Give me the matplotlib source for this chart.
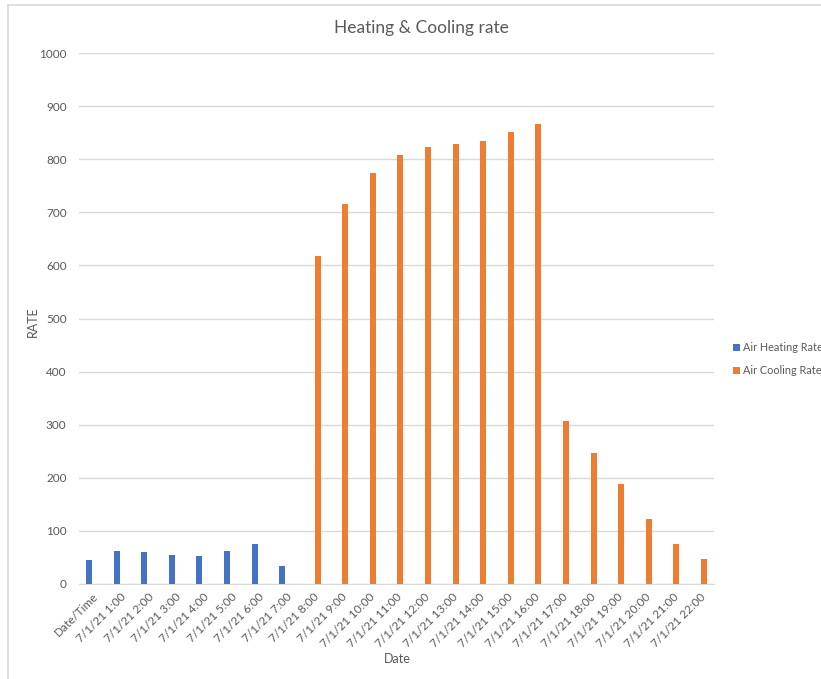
import matplotlib.pyplot as plt
import numpy as np
from matplotlib.lines import Line2D

#Category labels along the x axis
categories = ['Date/Time'] + ['7/1/21 %d:00' % h for h in range(1, 23)]

#Air heating rate (only first 8 categories have values)
heating = [46, 63, 60, 55, 52, 62, 76, 34.5] + [np.nan] * 15

#Air cooling rate (starts at 8:00)
cooling = [np.nan] * 8 + [618, 716, 774, 808, 823, 829, 834, 851, 866,
                          307, 247, 188, 122, 76, 46.5]

plt.rcParams['font.family'] = ['Lato', 'DejaVu Sans']
txt = '#595959'

fig = plt.figure(figsize=(8.21, 6.79), dpi=100)
ax = fig.add_axes([79/821, (679-584)/679, (714-79)/821, (584-53)/679])

x = np.arange(len(categories))
ax.bar(x - 0.14, heating, width=0.22, color='#4472C4', label='Air Heating Rate', zorder=3)
ax.bar(x + 0.14, cooling, width=0.22, color='#ED7D31', label='Air Cooling Rate', zorder=3)

ax.set_xlim(-0.5, len(categories) - 0.5)
ax.set_ylim(0, 1000)
ax.set_yticks(range(0, 1001, 100))
ax.grid(axis='y', color='#d9d9d9', linewidth=1, zorder=0)
for s in ['top', 'right', 'left']:
    ax.spines[s].set_visible(False)
ax.spines['bottom'].set_color('#d9d9d9')
ax.tick_params(axis='both', length=0, colors=txt, labelsize=8.5)
ax.tick_params(axis='y', pad=9)
ax.tick_params(axis='x', pad=5)
ax.set_xticks(x)
ax.set_xticklabels(categories, rotation=45, ha='right', rotation_mode='anchor')

fig.text(421/821, 1 - 28/679, 'Heating & Cooling rate', ha='center', va='center',
         fontsize=12.5, color=txt)
fig.text(33/821, 1 - 322/679, 'RATE', rotation=90, ha='center', va='center',
         fontsize=9, color=txt)
fig.text(397/821, 1 - 659/679, 'Date', ha='center', va='center', fontsize=9, color=txt)

ax.legend(loc='center left', bbox_to_anchor=(733/821, 1 - 359/679),
          bbox_transform=fig.transFigure, frameon=False, fontsize=7.8,
          labelcolor=txt, handlelength=0.6, handleheight=0.6, handletextpad=0.3,
          labelspacing=1.1, borderpad=0, borderaxespad=0)

#Light border on the left and top of the chart area
bx, by = 8/821, 1 - 5/679
fig.lines.append(Line2D([bx, bx], [0, by], transform=fig.transFigure,
                        color='#d9d9d9', linewidth=1.2))
fig.lines.append(Line2D([bx, 1], [by, by], transform=fig.transFigure,
                        color='#d9d9d9', linewidth=1.2))

fig.savefig('out.png', dpi=100)
